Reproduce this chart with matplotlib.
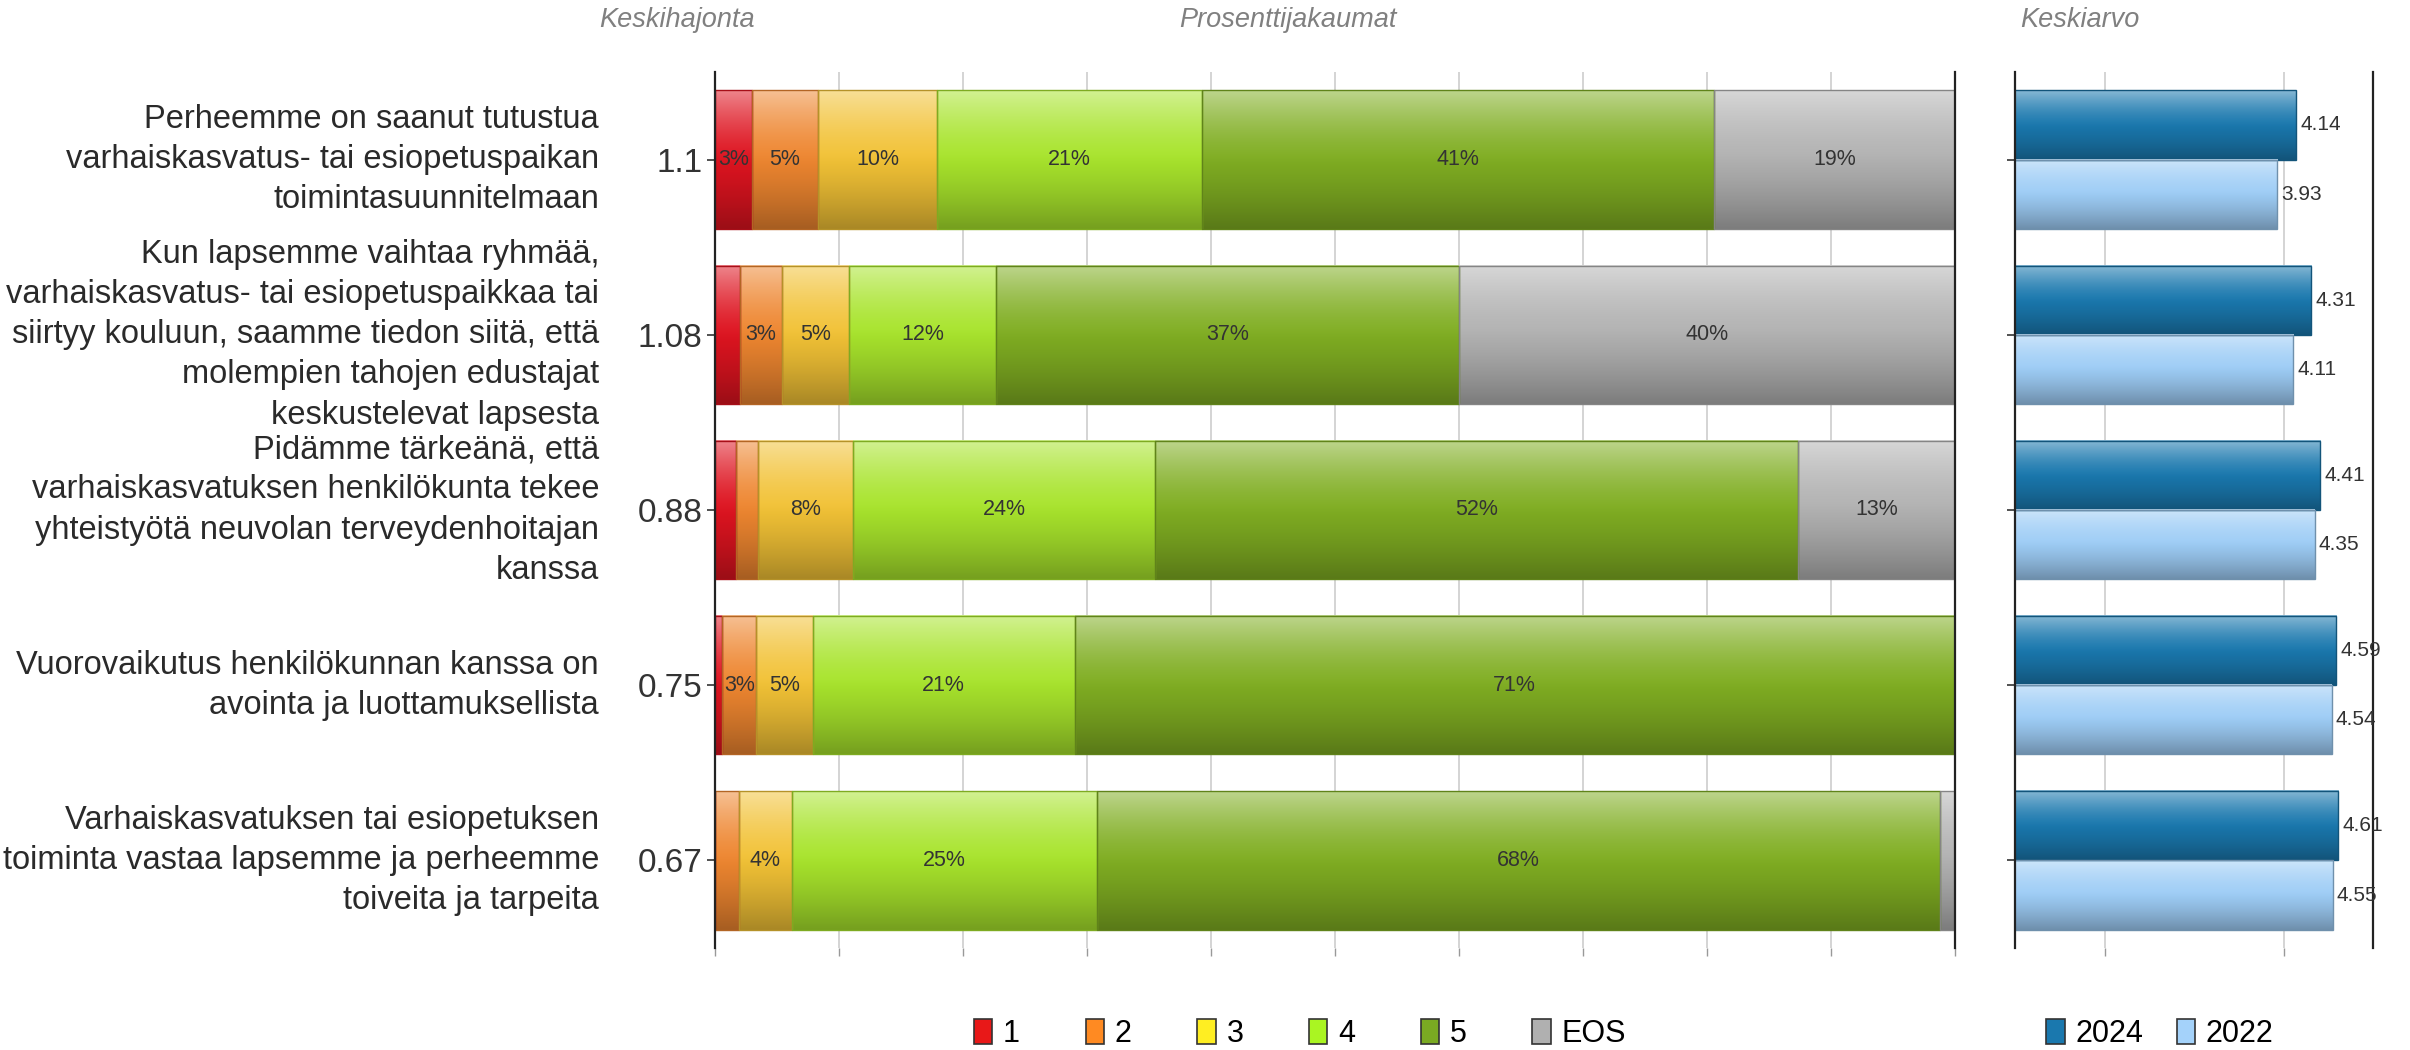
import matplotlib
matplotlib.use('Agg')
import matplotlib.pyplot as plt
import matplotlib.colors as mcolors
import matplotlib.transforms as mtransforms
from matplotlib.patches import Patch
import numpy as np

plt.rcParams['font.family'] = ['Liberation Sans', 'DejaVu Sans']

# ---------------- data ----------------
questions = [
    "Perheemme on saanut tutustua\nvarhaiskasvatus- tai esiopetuspaikan\ntoimintasuunnitelmaan",
    "Kun lapsemme vaihtaa ryhmää,\nvarhaiskasvatus- tai esiopetuspaikkaa tai\nsiirtyy kouluun, saamme tiedon siitä, että\nmolempien tahojen edustajat\nkeskustelevat lapsesta",
    "Pidämme tärkeänä, että\nvarhaiskasvatuksen henkilökunta tekee\nyhteistyötä neuvolan terveydenhoitajan\nkanssa",
    "Vuorovaikutus henkilökunnan kanssa on\navointa ja luottamuksellista",
    "Varhaiskasvatuksen tai esiopetuksen\ntoiminta vastaa lapsemme ja perheemme\ntoiveita ja tarpeita",
]
sd_labels = ["1.1", "1.08", "0.88", "0.75", "0.67"]

response_levels = ["1", "2", "3", "4", "5", "EOS"]
pct_1 = [3.0, 2.0, 1.7, 0.6, 0.0]
pct_2 = [5.3, 3.4, 1.8, 2.7, 1.9]
pct_3 = [9.6, 5.4, 7.6, 4.6, 4.3]
pct_4 = [21.4, 11.9, 24.4, 21.1, 24.6]
pct_5 = [41.3, 37.3, 51.8, 71.0, 68.0]
pct_eos = [19.4, 40.0, 12.7, 0.0, 1.2]

years = ["2024", "2022"]
mean_2024 = [4.14, 4.31, 4.41, 4.59, 4.61]
mean_2022 = [3.93, 4.11, 4.35, 4.54, 4.55]

# ---------------- style ----------------
level_colors = ['#de1420', '#ee8630', '#f2c236', '#a8e42c', '#80ae22', '#b2b2b2']
level_legend_colors = ['#e81818', '#ff8a22', '#ffee22', '#aaf522', '#7aaa22', '#b0b0b0']
year_colors = ['#1a78ae', '#9ecdf6']
year_legend_colors = ['#1a78ae', '#a4d2fa']
text_dark = '#333333'
title_gray = '#808080'


def darker(c, f=0.72):
    r = np.array(mcolors.to_rgb(c))
    return tuple(r * f)


def gradient_img(base):
    rgb = np.array(mcolors.to_rgb(base))
    t = np.linspace(0, 1, 80)[:, None]
    light = np.clip(1 - t / 0.55, 0, 1) ** 1.5 * 0.48
    dark = np.clip((t - 0.45) / 0.55, 0, 1) ** 1.3 * 0.30
    col = rgb * (1 - light) + light
    col = col * (1 - dark)
    return col[:, None, :]


def shade(ax, bars, base):
    img = gradient_img(base)
    for p in bars:
        w = p.get_width()
        if w <= 0:
            continue
        x0, y0, h = p.get_x(), p.get_y(), p.get_height()
        ax.imshow(img, extent=(x0, x0 + w, y0, y0 + h), origin='upper',
                  aspect='auto', interpolation='bilinear', zorder=2)


n = len(questions)
ypos = np.arange(n)[::-1].astype(float)

fig = plt.figure(figsize=(24.1, 10.5), dpi=100)
axL = fig.add_axes([715 / 2410, 1 - 948 / 1050, 1240 / 2410, 876 / 1050])
axR = fig.add_axes([2015 / 2410, 1 - 948 / 1050, 358 / 2410, 876 / 1050])

# ---------------- left: stacked percentages ----------------
series = [pct_1, pct_2, pct_3, pct_4, pct_5, pct_eos]
bar_h = 0.79
left = np.zeros(n)
for vals, col in zip(series, level_colors):
    vals = np.array(vals)
    bars = axL.barh(ypos, vals, left=left, height=bar_h, color=col, edgecolor='none', zorder=1.5)
    shade(axL, bars, col)
    axL.barh(ypos, vals, left=left, height=bar_h, fill=False,
             edgecolor=darker(col, 0.75), linewidth=1.0, zorder=3)
    for yy, v, l in zip(ypos, vals, left):
        if round(v) >= 3:
            axL.text(l + v / 2, yy, f"{round(v)}%", ha='center', va='center',
                     fontsize=15.5, color=text_dark, zorder=4)
    left = left + vals

axL.set_xlim(0, 100)
axL.set_ylim(-0.5, n - 0.5)
axL.set_xticks(np.arange(0, 101, 10))
axL.set_xticklabels([])
axL.grid(axis='x', color='#d4d4d4', linewidth=1.4, zorder=0)
axL.set_axisbelow(True)
axL.set_yticks(ypos)
axL.set_yticklabels(sd_labels, fontsize=24, color=text_dark)
axL.tick_params(axis='y', length=6, width=1.2, pad=3, color='#333333')
axL.tick_params(axis='x', length=6, width=1.0, color='#999999')
for s in ['top', 'bottom']:
    axL.spines[s].set_visible(False)
for s in ['left', 'right']:
    axL.spines[s].set_color('#222222')
    axL.spines[s].set_linewidth(1.6)
    axL.spines[s].set_zorder(5)

trans = mtransforms.blended_transform_factory(axL.transAxes, axL.transData)
for yy, q in zip(ypos, questions):
    axL.text(-0.0935, yy, q, transform=trans, ha='right', va='center',
             fontsize=23.5, color='#2a2a2a', linespacing=1.38)

# ---------------- right: means ----------------
bh = 0.395
b24 = axR.barh(ypos + bh / 2, mean_2024, height=bh, left=0, color=year_colors[0], edgecolor='none', zorder=1.5)
b22 = axR.barh(ypos - bh / 2, mean_2022, height=bh, left=0, color=year_colors[1], edgecolor='none', zorder=1.5)
axR.set_xlim(1, 5)
for bars, col in [(b24, year_colors[0]), (b22, year_colors[1])]:
    shade(axR, bars, col)
axR.barh(ypos + bh / 2, mean_2024, height=bh, fill=False, edgecolor=darker(year_colors[0], 0.7), linewidth=1.0, zorder=3)
axR.barh(ypos - bh / 2, mean_2022, height=bh, fill=False, edgecolor=darker(year_colors[1], 0.7), linewidth=1.0, zorder=3)
for yy, v in zip(ypos + bh / 2, mean_2024):
    axR.annotate(f"{v:.2f}", (v, yy), xytext=(3, 0), textcoords='offset points',
                 ha='left', va='center', fontsize=15, color=text_dark, zorder=6, annotation_clip=False)
for yy, v in zip(ypos - bh / 2, mean_2022):
    axR.annotate(f"{v:.2f}", (v, yy), xytext=(3, 0), textcoords='offset points',
                 ha='left', va='center', fontsize=15, color=text_dark, zorder=6, annotation_clip=False)

axR.set_xlim(1, 5)
axR.set_ylim(-0.5, n - 0.5)
axR.set_xticks([2, 4])
axR.set_xticklabels([])
axR.grid(axis='x', color='#d4d4d4', linewidth=1.4, zorder=0)
axR.set_axisbelow(True)
axR.set_yticks(ypos)
axR.set_yticklabels([])
axR.tick_params(axis='y', length=6, width=1.2, color='#333333')
axR.tick_params(axis='x', length=6, width=1.0, color='#999999')
for s in ['top', 'bottom']:
    axR.spines[s].set_visible(False)
for s in ['left', 'right']:
    axR.spines[s].set_color('#222222')
    axR.spines[s].set_linewidth(1.6)
    axR.spines[s].set_zorder(5)

# ---------------- titles ----------------
fig.text(677 / 2410, 1 - 20 / 1050, "Keskihajonta", ha='center', va='center',
         style='italic', color=title_gray, fontsize=19.5)
fig.text(1288 / 2410, 1 - 20 / 1050, "Prosenttijakaumat", ha='center', va='center',
         style='italic', color=title_gray, fontsize=19.5)
fig.text(2080 / 2410, 1 - 20 / 1050, "Keskiarvo", ha='center', va='center',
         style='italic', color=title_gray, fontsize=19.5)

# ---------------- legends ----------------
h1 = [Patch(facecolor=c, edgecolor='#333333', linewidth=1.2) for c in level_legend_colors]
fig.legend(h1, response_levels, loc='center', bbox_to_anchor=(1300 / 2410, 16 / 1050),
           ncol=6, frameon=False, fontsize=22, handlelength=0.6, handleheight=0.85,
           handletextpad=0.35, columnspacing=2.15, borderpad=0.1)
h2 = [Patch(facecolor=c, edgecolor='#333333', linewidth=1.2) for c in year_legend_colors]
fig.legend(h2, years, loc='center', bbox_to_anchor=(2160 / 2410, 16 / 1050),
           ncol=2, frameon=False, fontsize=22, handlelength=0.6, handleheight=0.85,
           handletextpad=0.35, columnspacing=1.1, borderpad=0.1)

fig.savefig('out.png', dpi=100, facecolor='white')
